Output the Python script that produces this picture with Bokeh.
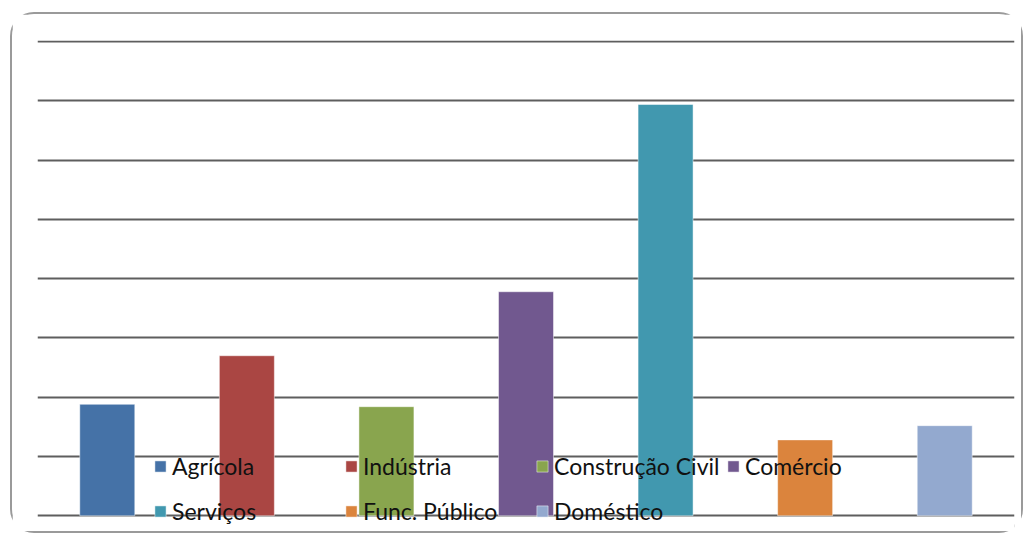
from bokeh.plotting import figure
from bokeh.models import (FactorRange, Range1d, Grid, FixedTicker, Legend, LegendItem,
                          ColumnDataSource)
from bokeh.embed import file_html
from bokeh.resources import INLINE

categories = ["Agrícola", "Indústria", "Construção Civil", "Comércio",
              "Serviços", "Func. Público", "Doméstico"]
values = [9.4, 13.5, 9.2, 18.9, 34.7, 6.4, 7.6]
colors = ["#4572A7", "#AA4643", "#89A54E", "#71588F", "#4198AF", "#DB843D", "#93A9CF"]
y_ticks = [0, 5, 10, 15, 20, 25, 30, 35, 40]

src = ColumnDataSource(dict(cat=categories, val=values, color=colors))

p = figure(width=1013, height=521, output_backend="svg", toolbar_location=None,
           x_range=FactorRange(*categories, range_padding=0),
           y_range=Range1d(-1.5, 40.1),
           x_axis_location=None, y_axis_location=None,
           min_border_left=25, min_border_right=11, min_border_top=26, min_border_bottom=2)
p.outline_line_color = None
p.background_fill_color = "white"
p.border_fill_color = "white"
p.styles = {"border": "2px solid #9a9a9a", "border-radius": "24px",
            "margin-left": "10px", "margin-top": "12px"}
p.grid.visible = False

grid = Grid(dimension=1, ticker=FixedTicker(ticks=y_ticks),
            grid_line_color="#5e5e5e", grid_line_width=1.8)
p.add_layout(grid)

r = p.vbar(x="cat", top="val", width=0.394, bottom=0, source=src,
           fill_color="color", line_color="white", line_alpha=0.6, line_width=0.8)

items = [LegendItem(label=c, renderers=[r], index=i) for i, c in enumerate(categories)]
legend = Legend(items=items, orientation="horizontal", ncols=4,
                location=(116, 0), padding=0, margin=0, spacing=0,
                glyph_width=14, glyph_height=14, label_standoff=5,
                label_width=172, label_height=45,
                label_text_font="Lato", label_text_font_size="23px",
                label_text_color="#111111",
                background_fill_alpha=0, border_line_color=None)
p.add_layout(legend, "center")

open("out.html", "w").write(file_html(p, INLINE))
